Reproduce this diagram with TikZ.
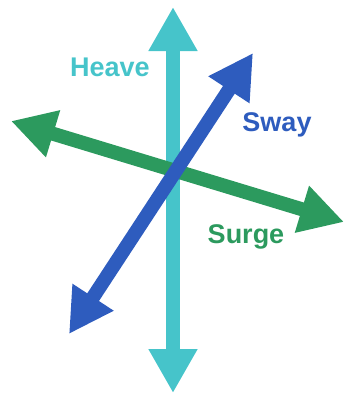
\documentclass[tikz,border=0pt]{standalone}
\usepackage{fontspec}
\setsansfont{Liberation Sans}
\usetikzlibrary{
  arrows.meta,
  positioning
}
\definecolor{heave}{RGB}{70,196,202}
\definecolor{sway}{RGB}{46,92,190}
\definecolor{surge}{RGB}{44,154,94}

\begin{document}
\begin{tikzpicture}[
  x=1pt, y=-1pt,
  every node/.style={font=\sffamily\bfseries\fontsize{27}{27}\selectfont},
  axis/.style={line width=14pt, {Triangle[width=46pt, length=44pt]}-{Triangle[width=46pt, length=44pt]}}
]
\useasboundingbox (0, 0) rectangle (346, 397);

\coordinate (heavetop) at (173, 7);
\coordinate (heavebot) at (173, 393);
\coordinate (surgeleft) at (11, 121);
\coordinate (surgeright) at (344, 222);
\coordinate (swaytop) at (253, 53);
\coordinate (swaybot) at (69, 334);

\draw[axis, draw=heave, fill=heave] (heavebot) -- (heavetop);
\draw[axis, draw=surge, fill=surge] (surgeleft) -- (surgeright);
\draw[axis, draw=sway, fill=sway] (swaybot) -- (swaytop);

\node[text=heave] (heavelabel) at (110, 67) {Heave};
\node[text=sway] (swaylabel) at (277, 125) {Sway};
\node[text=surge] (surgelabel) at (246, 237) {Surge};

\end{tikzpicture}
\end{document}
